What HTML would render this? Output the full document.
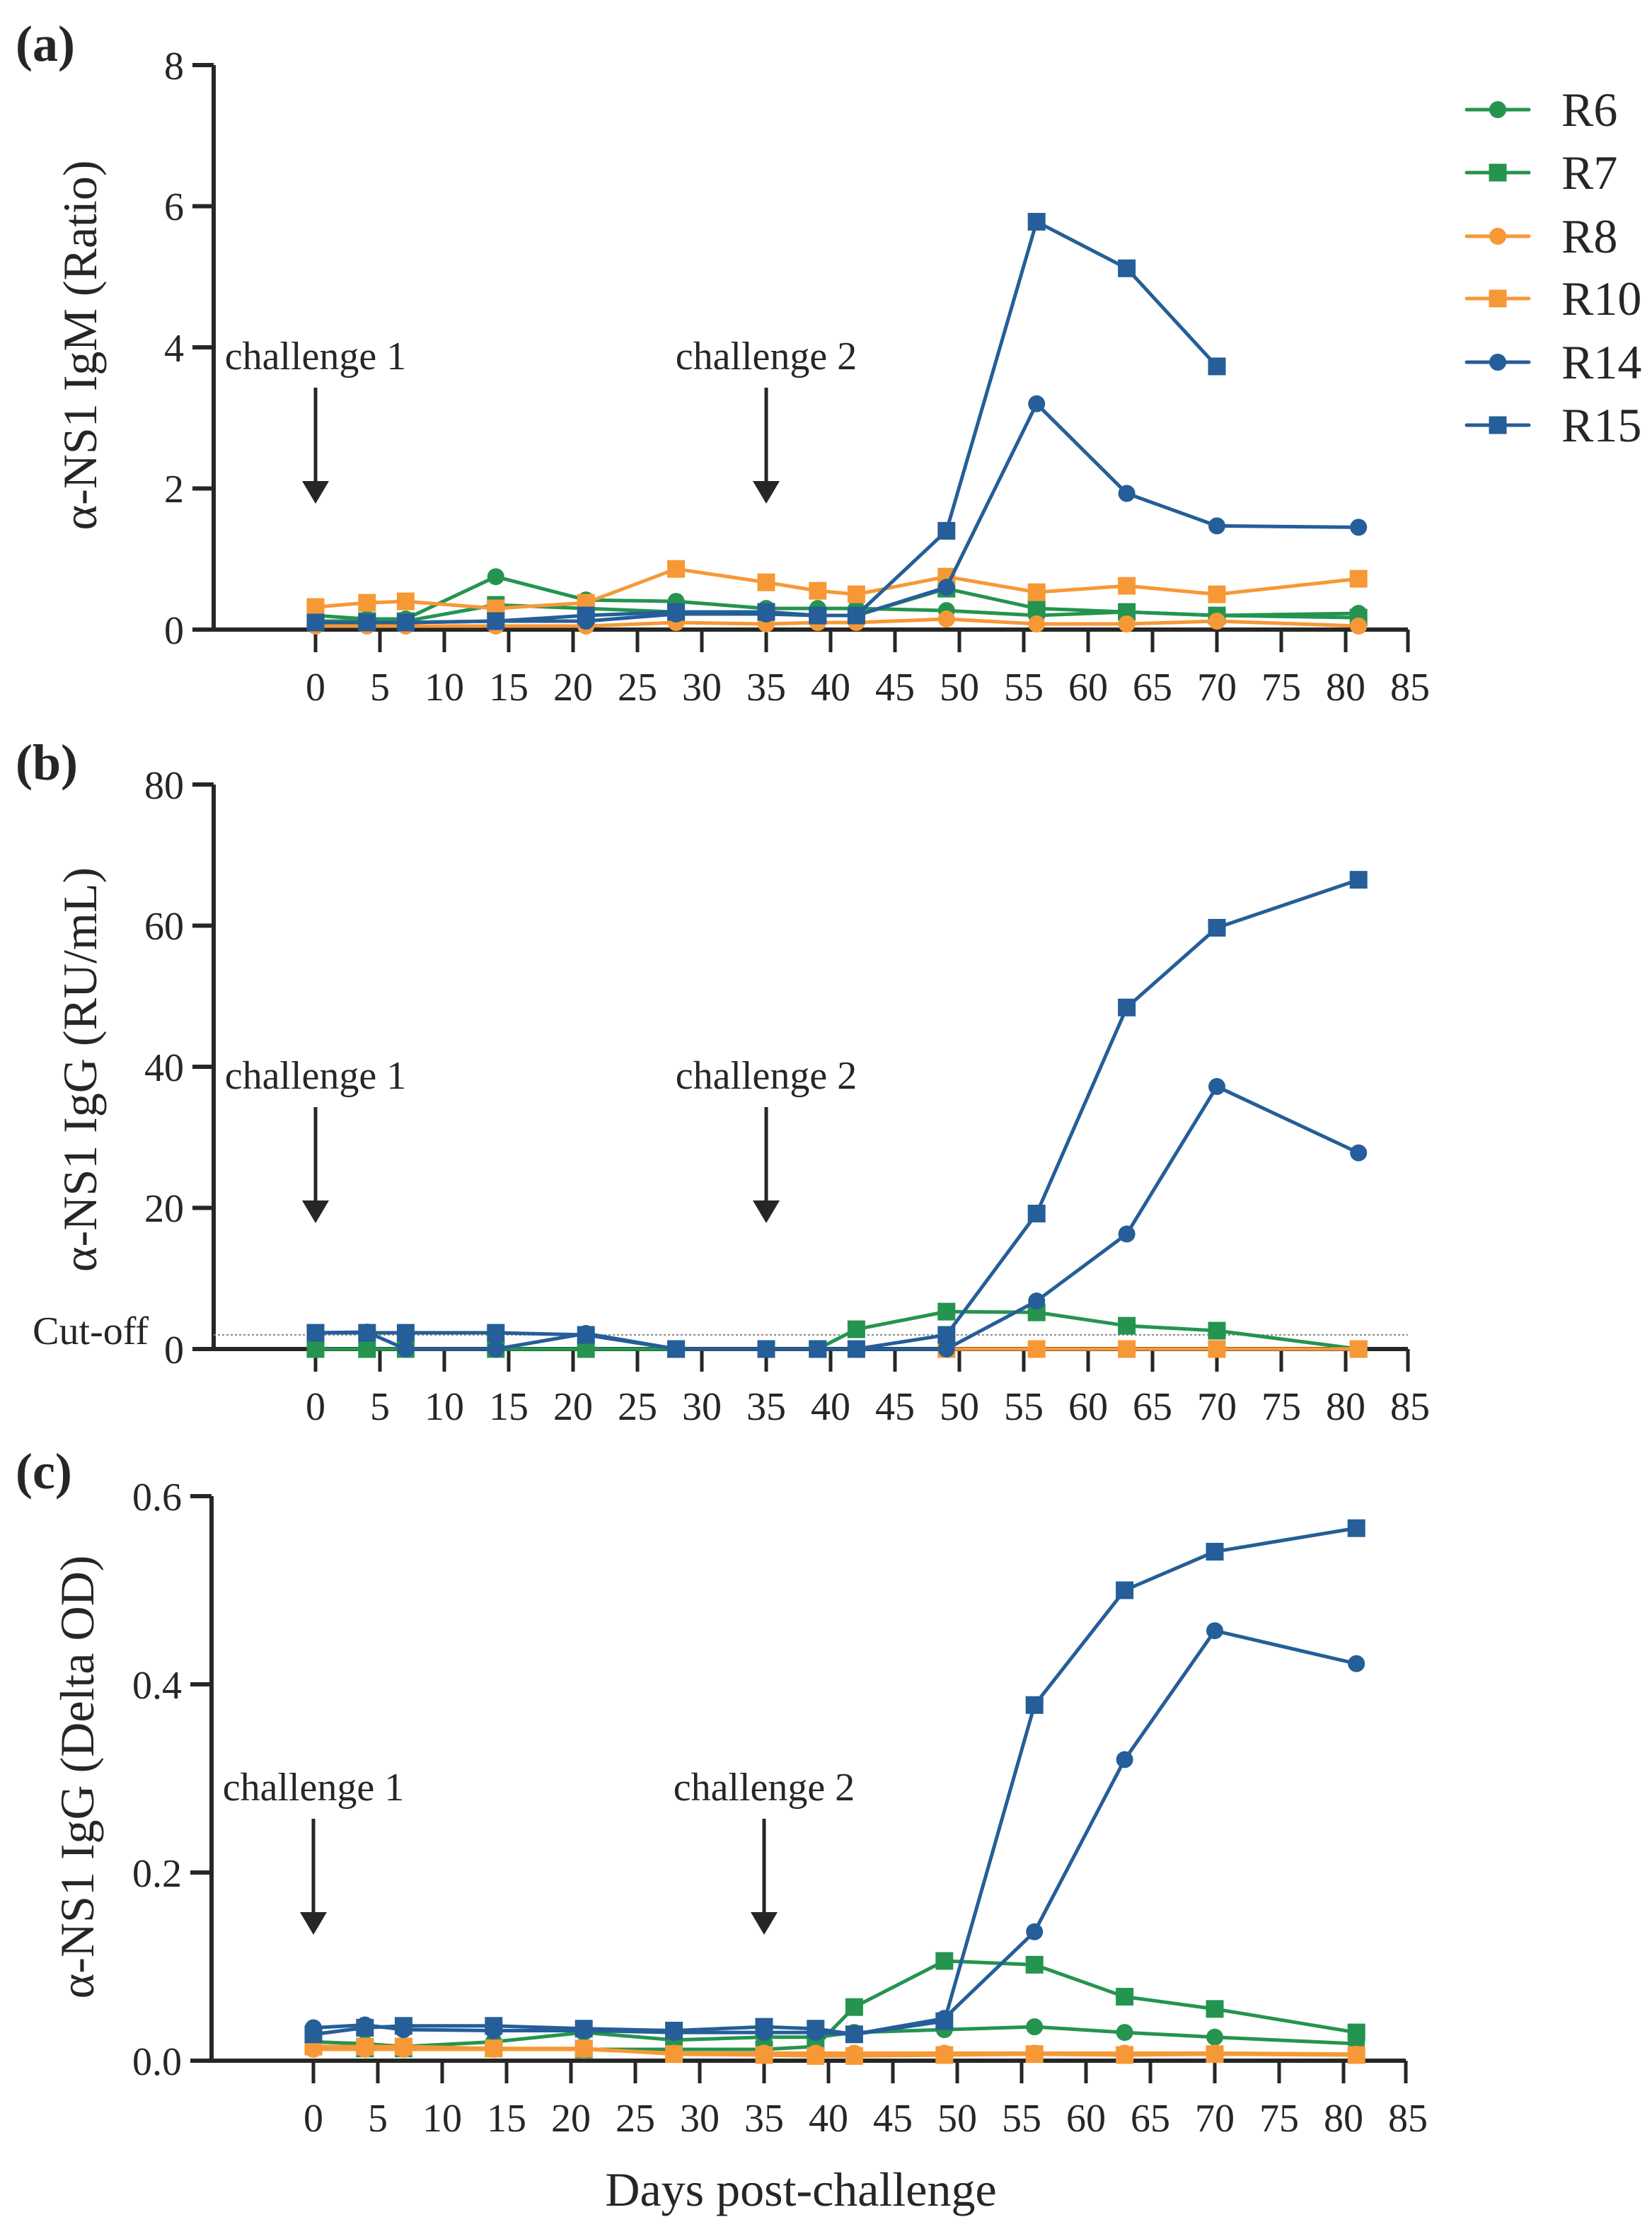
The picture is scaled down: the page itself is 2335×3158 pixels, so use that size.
<!DOCTYPE html>
<html><head><meta charset="utf-8"><style>
html,body{margin:0;padding:0;background:#fff}
svg{display:block}
text{font-family:"Liberation Serif",serif;fill:#262626}
</style></head><body>
<svg id="s" width="2335" height="3158" viewBox="0 0 2335 3158" xmlns="http://www.w3.org/2000/svg">
<defs>
<g id="frame">
<path d="M302,92V890H1990" fill="none" stroke="#262626" stroke-width="6"/>
<path d="M446,890V922M537,890V922M628,890V922M719,890V922M810,890V922M901,890V922M992,890V922M1083,890V922M1174,890V922M1265,890V922M1356,890V922M1447,890V922M1538,890V922M1629,890V922M1720,890V922M1811,890V922M1902,890V922M1990,890V922" stroke="#262626" stroke-width="5"/>
<g font-size="56" text-anchor="middle">
<text x="446" y="990">0</text><text x="537" y="990">5</text><text x="628" y="990">10</text><text x="719" y="990">15</text><text x="810" y="990">20</text><text x="901" y="990">25</text><text x="992" y="990">30</text><text x="1083" y="990">35</text><text x="1174" y="990">40</text><text x="1265" y="990">45</text><text x="1356" y="990">50</text><text x="1447" y="990">55</text><text x="1538" y="990">60</text><text x="1629" y="990">65</text><text x="1720" y="990">70</text><text x="1811" y="990">75</text><text x="1902" y="990">80</text><text x="1993" y="990">85</text>
</g>
<g font-size="56" text-anchor="middle">
<text x="446" y="522">challenge 1</text><text x="1083" y="522">challenge 2</text>
</g>
<path d="M446,548V690M1083,548V690" stroke="#262626" stroke-width="5"/>
<path d="M427,680H465L446,712ZM1064,680H1102L1083,712Z" fill="#262626"/>
</g>
<path id="yt4" d="M272,92H302M272,291.5H302M272,491H302M272,690.5H302M272,890H302" stroke="#262626" stroke-width="6"/>
<path id="yt3" d="M272,92H302M272,358H302M272,624H302M272,890H302" stroke="#262626" stroke-width="6"/>
</defs>

<text x="22" y="86" font-size="72" font-weight="bold">(a)</text>
<text x="22" y="1102" font-size="72" font-weight="bold">(b)</text>
<text x="22" y="2104" font-size="72" font-weight="bold">(c)</text>

<use href="#frame"/><use href="#yt4"/>
<use href="#frame" transform="translate(0,1017)"/><use href="#yt4" transform="translate(0,1017)"/>
<use href="#frame" transform="translate(-3,2023)"/><use href="#yt3" transform="translate(-3,2023)"/>

<g font-size="56" text-anchor="end">
<text x="260" y="112">8</text><text x="260" y="311">6</text><text x="260" y="511">4</text><text x="260" y="710">2</text><text x="260" y="910">0</text>
<text x="260" y="1129">80</text><text x="260" y="1328">60</text><text x="260" y="1528">40</text><text x="260" y="1727">20</text><text x="260" y="1927">0</text>
<text x="257" y="2135">0.6</text><text x="257" y="2401">0.4</text><text x="257" y="2667">0.2</text><text x="257" y="2933">0.0</text>
<text x="210" y="1900">Cut-off</text>
</g>
<line x1="302" y1="1887" x2="1990" y2="1887" stroke="#888" stroke-width="2" stroke-dasharray="3,3"/>

<g font-size="68" text-anchor="middle">
<text transform="translate(136,488) rotate(-90)">α-NS1 IgM (Ratio)</text>
<text transform="translate(136,1512) rotate(-90)">α-NS1 IgG (RU/mL)</text>
<text transform="translate(132,2512) rotate(-90)">α-NS1 IgG (Delta OD)</text>
<text x="1132" y="3118" font-size="68">Days post-challenge</text>
</g>

<g font-size="68">
<text x="2207" y="178">R6</text><text x="2207" y="267">R7</text><text x="2207" y="357">R8</text><text x="2207" y="445">R10</text><text x="2207" y="535">R14</text><text x="2207" y="624">R15</text>
</g>
<g id="legend"></g>
<g id="data"></g>
</svg>
<script>
var G='#24944f',O='#f79836',B='#255e98';
var days=[0,4,7,14,21,28,35,39,42,49,56,63,70,81];
var series=[
{c:G,m:'c',a:[0.2,0.15,0.15,0.75,0.42,0.4,0.3,0.3,0.3,0.27,0.2,0.25,0.2,0.23],
 b:[0,0,0,0,0,0,0,0,0,0,null,null,null,null],
 cc:[0.02,0.018,0.015,0.02,0.03,0.022,0.025,0.025,0.03,0.033,0.036,0.03,0.025,0.018]},
{c:G,m:'s',a:[0.12,0.12,0.12,0.35,0.3,0.25,0.25,0.2,0.2,0.58,0.3,0.25,0.2,0.17],
 b:[0,0,0,0,0,0,0,0,2.8,5.3,5.2,3.3,2.6,0],
 cc:[0.015,0.013,0.013,0.013,0.012,0.012,0.012,0.015,0.057,0.106,0.102,0.068,0.055,0.03]},
{c:O,m:'c',a:[0.05,0.05,0.05,0.05,0.05,0.1,0.08,0.1,0.1,0.15,0.08,0.08,0.12,0.05],
 b:[null,null,null,null,null,null,null,null,0,0,0,0,0,0],
 cc:[0.012,0.012,0.012,0.012,0.012,0.008,0.008,0.008,0.008,0.008,0.008,0.008,0.008,0.007]},
{c:O,m:'s',a:[0.32,0.38,0.4,0.3,0.38,0.86,0.67,0.55,0.5,0.75,0.53,0.62,0.5,0.72],
 b:[null,null,null,null,null,null,null,null,0,0,0,0,0,0],
 cc:[0.015,0.015,0.015,0.013,0.013,0.007,0.006,0.005,0.005,0.006,0.007,0.006,0.007,0.006]},
{c:B,m:'c',a:[0.1,0.1,0.1,0.12,0.12,0.22,0.22,0.2,0.2,0.6,3.2,1.93,1.47,1.45],
 b:[2.3,2.4,0,0,2.2,0,0,0,0,0,6.8,16.3,37.2,27.8],
 cc:[0.035,0.038,0.033,0.032,0.032,0.03,0.03,0.03,0.028,0.045,0.137,0.32,0.457,0.422]},
{c:B,m:'s',a:[0.1,0.1,0.1,0.12,0.2,0.25,0.25,0.2,0.2,1.4,5.78,5.12,3.73,null],
 b:[2.3,2.3,2.3,2.3,2,0,0,0,0,2,19.2,48.4,59.7,66.5],
 cc:[0.028,0.035,0.037,0.037,0.034,0.032,0.036,0.034,0.028,0.042,0.378,0.5,0.541,0.566]}
];
var NS='http://www.w3.org/2000/svg';
function el(p,t,at){var e=document.createElementNS(NS,t);for(var k in at)e.setAttribute(k,at[k]);p.appendChild(e);return e;}
var D=document.getElementById('data');
var panels=[{k:'a',x0:446,y0:890,max:8},{k:'b',x0:446,y0:1907,max:80},{k:'cc',x0:443,y0:2913,max:0.6}];
panels.forEach(function(P){
 series.forEach(function(S){
  var pts=[];
  S[P.k].forEach(function(v,i){if(v!==null)pts.push([P.x0+18.2*days[i],P.y0-v/P.max*798]);});
  el(D,'polyline',{points:pts.map(function(p){return p.join(',')}).join(' '),fill:'none',stroke:S.c,'stroke-width':5,'stroke-linejoin':'round'});
  pts.forEach(function(p){
   if(S.m=='c')el(D,'circle',{cx:p[0],cy:p[1],r:12,fill:S.c});
   else el(D,'rect',{x:p[0]-12.5,y:p[1]-12.5,width:25,height:25,fill:S.c});
  });
 });
});
var L=document.getElementById('legend');
var ly=[155,244,334,422,512,601];
series.forEach(function(S,i){
 el(L,'line',{x1:2073,x2:2161,y1:ly[i],y2:ly[i],stroke:S.c,'stroke-width':5,'stroke-linecap':'round'});
 if(S.m=='c')el(L,'circle',{cx:2117,cy:ly[i],r:12,fill:S.c});
 else el(L,'rect',{x:2104.5,y:ly[i]-12.5,width:25,height:25,fill:S.c});
});
</script>
</body></html>
